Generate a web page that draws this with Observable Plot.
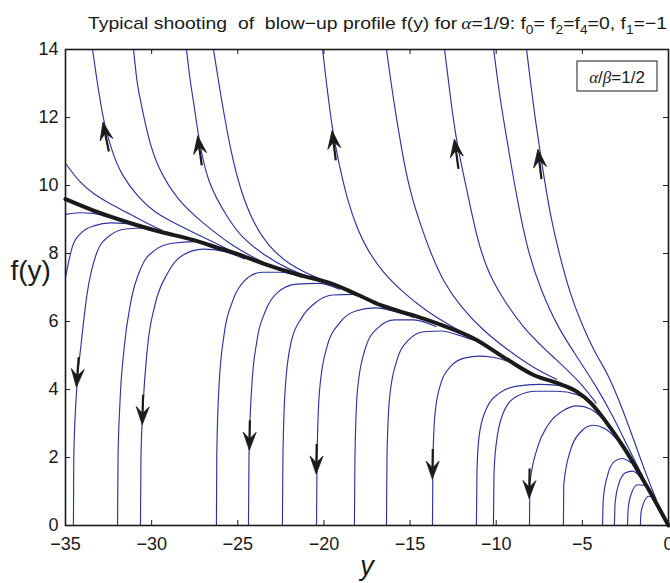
<!DOCTYPE html>
<html><head><meta charset="utf-8">
<script src="https://cdn.jsdelivr.net/npm/d3@7"></script>
<script src="https://cdn.jsdelivr.net/npm/@observablehq/plot@0.6"></script>
<style>html,body{margin:0;padding:0;background:#fff;}</style>
</head><body><div id="chart"></div>
<script>
const xTicks = [-35, -30, -25, -20, -15, -10, -5, 0];
const yTicks = [0, 2, 4, 6, 8, 10, 12, 14];

// thick black: the blow-up profile
const blackProfile = [[-35,9.6],[-33.4,9.27],[-31.4,8.92],[-29.5,8.64],[-27.6,8.4],[-26,8.14],[-25,7.98],[-23.6,7.72],[-21.5,7.38],[-19.6,7.12],[-18,6.78],[-16.7,6.48],[-14.8,6.18],[-13.2,5.9],[-11.3,5.5],[-9.35,4.88],[-7.8,4.42],[-6.4,4.18],[-5.3,3.93],[-4.5,3.6],[-3.7,3.1],[-2.6,2.3],[-1.2,1.1],[0,0]];

// blue trajectories leaving the profile upwards (blow-up)
const upperCurves = [
  [[-35,10.65],[-34.2,10.1],[-33.4,9.76],[-32.4,9.45],[-31.4,9.2],[-30.4,8.92],[-29.4,8.68]],
  [[-33.43,14],[-33.15,13],[-32.95,12.4],[-32.75,11.8],[-32.3,11],[-31.8,10.35],[-30.8,9.65],[-29.8,9.2],[-28.9,8.95],[-27.5,8.6],[-26.2,8.28],[-25.2,8.03]],
  [[-31.05,14],[-30.85,13],[-30.65,12.5],[-30.2,11.4],[-29.66,10.53],[-28.5,9.56],[-27,8.88],[-25.25,8.2],[-24,7.86],[-23,7.62]],
  [[-27.98,14],[-27.75,13],[-27.57,12.5],[-27.28,11.4],[-26.76,10.06],[-25.6,9.06],[-24.84,8.5],[-23.5,7.95],[-22,7.52],[-20.8,7.3]],
  [[-26.41,14],[-26.1,13],[-25.8,12.1],[-25.4,11.0],[-24.84,9.85],[-24.1,8.9],[-23.2,8.2],[-22,7.66],[-20.5,7.3],[-19.5,7.1]],
  [[-20.08,14],[-19.85,13],[-19.5,11.56],[-19.04,10.44],[-18.63,9.56],[-18.05,8.7],[-17.47,8.1],[-16.6,7.45],[-15.5,6.9],[-14.2,6.35],[-12.5,5.82],[-11.5,5.56]],
  [[-16.37,14],[-16.1,13],[-15.8,12],[-15.15,10.06],[-14.5,9],[-13.8,8.0],[-13.0,7.1],[-12.0,6.4],[-10.8,5.75],[-9.3,5.15],[-7.8,4.62],[-6.5,4.3]],
  [[-13,14],[-12.75,13],[-12.37,11.4],[-11.67,9.8],[-11.1,8.4],[-10.5,7.5],[-9.9,6.9],[-8.4,5.75],[-6.45,4.85],[-5.1,4.2],[-4.2,3.6]],
  [[-10.15,14],[-9.9,13],[-9.6,12],[-9.2,10.8],[-8.77,9.56],[-8.19,8.1],[-7.4,6.9],[-6.4,5.8],[-5.3,4.95],[-4.2,4.1],[-3.2,3.2],[-2.3,2.25],[-1.5,1.45]],
  [[-8.24,14],[-8.0,13],[-7.75,12],[-7.4,10.8],[-6.85,9.06],[-6.3,7.9],[-5.7,6.8],[-5.1,6.0],[-4.3,5.1],[-3.55,4.5],[-2.8,3.6],[-2.0,2.5],[-1.3,1.5],[-0.7,0.75]]
];

// blue trajectories leaving the profile downwards (to f = 0)
const lowerCurves = [
  [[-35,9.15],[-34.2,9.2],[-33.4,9.18],[-32.6,9.08],[-31.8,8.97]],
  [[-35,7.3],[-34.6,8.2],[-34.1,8.6],[-33.3,8.82],[-32.4,8.9],[-31.4,8.88]],
  [[-34.54,0],[-34.52,2],[-34.35,4],[-34.1,5.3],[-33.75,6.8],[-33.2,8.0],[-32.5,8.5],[-31.5,8.72],[-30.3,8.75],[-29.3,8.62]],
  [[-31.98,0],[-31.95,2],[-31.85,3.5],[-31.6,5.2],[-31.2,6.6],[-30.6,7.6],[-29.8,8.1],[-28.8,8.3],[-27.5,8.35],[-26.3,8.2],[-25.5,8.03]],
  [[-30.65,0],[-30.62,2],[-30.5,3.5],[-30.25,5.2],[-29.8,6.5],[-29.1,7.4],[-28.2,7.95],[-27,8.13],[-25.8,8.06],[-24.6,7.84]],
  [[-26.24,0],[-26.22,2],[-26.1,4],[-25.8,5.6],[-25.3,6.6],[-24.6,7.2],[-23.6,7.45],[-22.5,7.45],[-21.3,7.3]],
  [[-24.38,0],[-24.35,2],[-24.2,4],[-23.9,5.4],[-23.4,6.3],[-22.7,6.85],[-21.6,7.1],[-20.3,7.12],[-19.1,6.95]],
  [[-22.41,0],[-22.38,2],[-22.25,4],[-21.9,5.4],[-21.3,6.1],[-20.5,6.55],[-19.5,6.78],[-18.3,6.8],[-17.3,6.6]],
  [[-20.43,0],[-20.4,2],[-20.25,4],[-19.8,5.3],[-19.1,5.95],[-18.2,6.3],[-17,6.4],[-15.8,6.28],[-14.8,6.12]],
  [[-18.23,0],[-18.2,2],[-18.05,4],[-17.6,5.2],[-16.9,5.8],[-15.9,6.05],[-14.8,6.05],[-13.5,5.85]],
  [[-16.37,0],[-16.34,2],[-16.2,3.7],[-15.8,4.8],[-15.1,5.45],[-14.2,5.7],[-13.2,5.72],[-12.2,5.6],[-11.3,5.45]],
  [[-13.7,0],[-13.67,2],[-13.55,3.3],[-13.2,4.2],[-12.6,4.7],[-11.8,4.93],[-11,4.98],[-10.2,4.95],[-9.4,4.84]],
  [[-11.15,0],[-11.12,1.5],[-11,2.6],[-10.6,3.4],[-9.8,3.9],[-8.8,4.1],[-7.5,4.15],[-6.4,4.12],[-5.5,3.98]],
  [[-10.16,0],[-10.13,1.5],[-10.0,2.4],[-9.6,3.3],[-8.8,3.8],[-7.7,3.95],[-6.5,3.95],[-5.3,3.85],[-4.4,3.55]],
  [[-8.07,0],[-8.05,1.2],[-7.6,2.3],[-7.0,2.95],[-6.2,3.35],[-5.3,3.52],[-4.5,3.42],[-3.7,3.08],[-3.1,2.72]],
  [[-6.1,0],[-6.08,1.2],[-5.7,2.2],[-5.1,2.75],[-4.4,2.95],[-3.7,2.85],[-2.9,2.48]],
  [[-3.83,0],[-3.78,0.8],[-3.55,1.45],[-3.15,1.88],[-2.7,1.97],[-2.2,1.85]],
  [[-3.14,0],[-3.1,0.65],[-2.9,1.2],[-2.5,1.55],[-2.1,1.6],[-1.6,1.42]],
  [[-2.38,0],[-2.34,0.5],[-2.15,0.95],[-1.8,1.2],[-1.4,1.18],[-1.1,1.0]],
  [[-1.63,0],[-1.6,0.35],[-1.45,0.65],[-1.15,0.86],[-0.85,0.8],[-0.6,0.6]]
];

// arrows: [tip x, tip y, a point behind the tip on the same curve]
const arrowsUp = [[-32.8,11.85,-32.58,11.3],[-27.3,11.45,-27.15,10.9],[-19.5,11.6,-19.35,11.0],[-12.4,11.35,-12.25,10.8],[-7.55,11.05,-7.42,10.5]];
const arrowsDown = [[-34.34,4.06,-34.24,4.7],[-30.52,2.95,-30.48,3.6],[-24.3,2.2,-24.28,2.8],[-20.42,1.5,-20.4,2.1],[-13.68,1.35,-13.66,1.95],[-8.06,0.78,-8.04,1.4]];

const titleParts = [
  {t: "Typical shooting  of  blow\u2212up profile f(y) for\u2009"},
  {t: "\u03b1", i: true},
  {t: "=1/9: f"}, {t: "0", sub: true}, {t: "= f"}, {t: "2", sub: true}, {t: "=f"}, {t: "4", sub: true},
  {t: "=0, f"}, {t: "1", sub: true}, {t: "=\u22121"}
];

const BLUE = "#2d349f";
const INK = "#1a1a1a";
const FONT = "'Liberation Sans', Arial, Helvetica, sans-serif";

const rows = (curves, kind) => curves.flatMap((c, k) => c.map(([x, y]) => ({x, y, id: kind + k})));
const upperRows = rows(upperCurves, "u");
const lowerRows = rows(lowerCurves, "l");
const blackRows = blackProfile.map(([x, y]) => ({x, y}));

function arrowMark(list) {
  return (index, scales) => {
    const g = d3.create("svg:g");
    for (const [tx, ty, fx, fy] of list) {
      const X = scales.x(tx), Y = scales.y(ty);
      let ux = X - scales.x(fx), uy = Y - scales.y(fy);
      const n = Math.hypot(ux, uy); ux /= n; uy /= n;
      const px = -uy, py = ux;
      const L = 18, Wd = 6.5, S = 30;
      g.append("line")
        .attr("x1", X - ux * S).attr("y1", Y - uy * S)
        .attr("x2", X - ux * L * 0.6).attr("y2", Y - uy * L * 0.6)
        .attr("stroke", INK).attr("stroke-width", 2.2);
      g.append("path")
        .attr("d", `M${X},${Y}L${X - ux * L + px * Wd},${Y - uy * L + py * Wd}L${X - ux * L * 0.62},${Y - uy * L * 0.62}L${X - ux * L - px * Wd},${Y - uy * L - py * Wd}Z`)
        .attr("fill", INK).attr("stroke", INK).attr("stroke-width", 0.8).attr("stroke-linejoin", "miter");
    }
    return g.node();
  };
}

function decorations(index, scales, values, dims) {
  const g = d3.create("svg:g").attr("font-family", FONT).attr("fill", INK).attr("text-anchor", "start");
  // title
  const t = g.append("text").attr("x", 88).attr("y", 29).attr("font-size", 17).attr("text-anchor", "start")
    .style("white-space", "pre").attr("textLength", 579).attr("lengthAdjust", "spacingAndGlyphs");
  titleParts.forEach((p, i) => {
    const s = t.append("tspan").text(p.t);
    if (p.i) s.attr("font-style", "italic").attr("font-family", "'Liberation Serif', 'DejaVu Serif', serif");
    const prev = titleParts[i - 1];
    if (p.sub) s.attr("font-size", 12).attr("dy", 5);
    else if (prev && prev.sub) s.attr("dy", -5);
  });
  // legend box
  const right = dims.width - dims.marginRight;
  const bx = right - 91, by = dims.marginTop + 12;
  g.append("rect").attr("x", bx).attr("y", by).attr("width", 80).attr("height", 30)
    .attr("fill", "white").attr("stroke", INK).attr("stroke-width", 1);
  const lt = g.append("text").attr("x", bx + 40).attr("y", by + 21.5).attr("text-anchor", "middle").attr("font-size", 17);
  lt.append("tspan").text("\u03b1").attr("font-style", "italic").attr("font-family", "'Liberation Serif', serif");
  lt.append("tspan").text("/");
  lt.append("tspan").text("\u03b2").attr("font-style", "italic").attr("font-family", "'Liberation Serif', serif");
  lt.append("tspan").text("=1/2");
  return g.node();
}

const plot = Plot.plot({
  width: 670, height: 583,
  marginTop: 49, marginRight: 2, marginBottom: 58, marginLeft: 65,
  style: {fontFamily: FONT, color: INK, background: "white", overflow: "visible"},
  x: {domain: [-35, 0], label: null},
  y: {domain: [0, 14], label: null},
  marks: [
    Plot.line(upperRows, {x: "x", y: "y", z: "id", stroke: BLUE, strokeWidth: 1.15, curve: "basis"}),
    Plot.line(lowerRows, {x: "x", y: "y", z: "id", stroke: BLUE, strokeWidth: 1.15, curve: "monotone-x"}),
    Plot.line(blackRows, {x: "x", y: "y", stroke: INK, strokeWidth: 4, curve: "monotone-x"}),
    arrowMark(arrowsUp),
    arrowMark(arrowsDown),
    Plot.tickX(xTicks, {x: d => d, insetTop: 471, stroke: INK}),
    Plot.tickX(xTicks, {x: d => d, insetBottom: 471, stroke: INK}),
    Plot.tickY(yTicks, {y: d => d, insetRight: 598, stroke: INK}),
    Plot.tickY(yTicks, {y: d => d, insetLeft: 598, stroke: INK}),
    Plot.frame({stroke: INK, strokeWidth: 1.6}),
    Plot.axisX({ticks: xTicks, tickSize: 0, tickPadding: 12, fontSize: 18, label: null}),
    Plot.axisY({ticks: yTicks, tickSize: 0, tickPadding: 7, fontSize: 18, label: null}),
    Plot.text(["f(y)"], {frameAnchor: "left", dx: -55, dy: -16, textAnchor: "start", fontSize: 28, fill: INK}),
    Plot.text(["y"], {frameAnchor: "bottom", dy: 49, fontSize: 27, fontStyle: "italic", fill: INK}),
    decorations
  ]
});
document.getElementById("chart").appendChild(plot);
</script>
</body></html>
